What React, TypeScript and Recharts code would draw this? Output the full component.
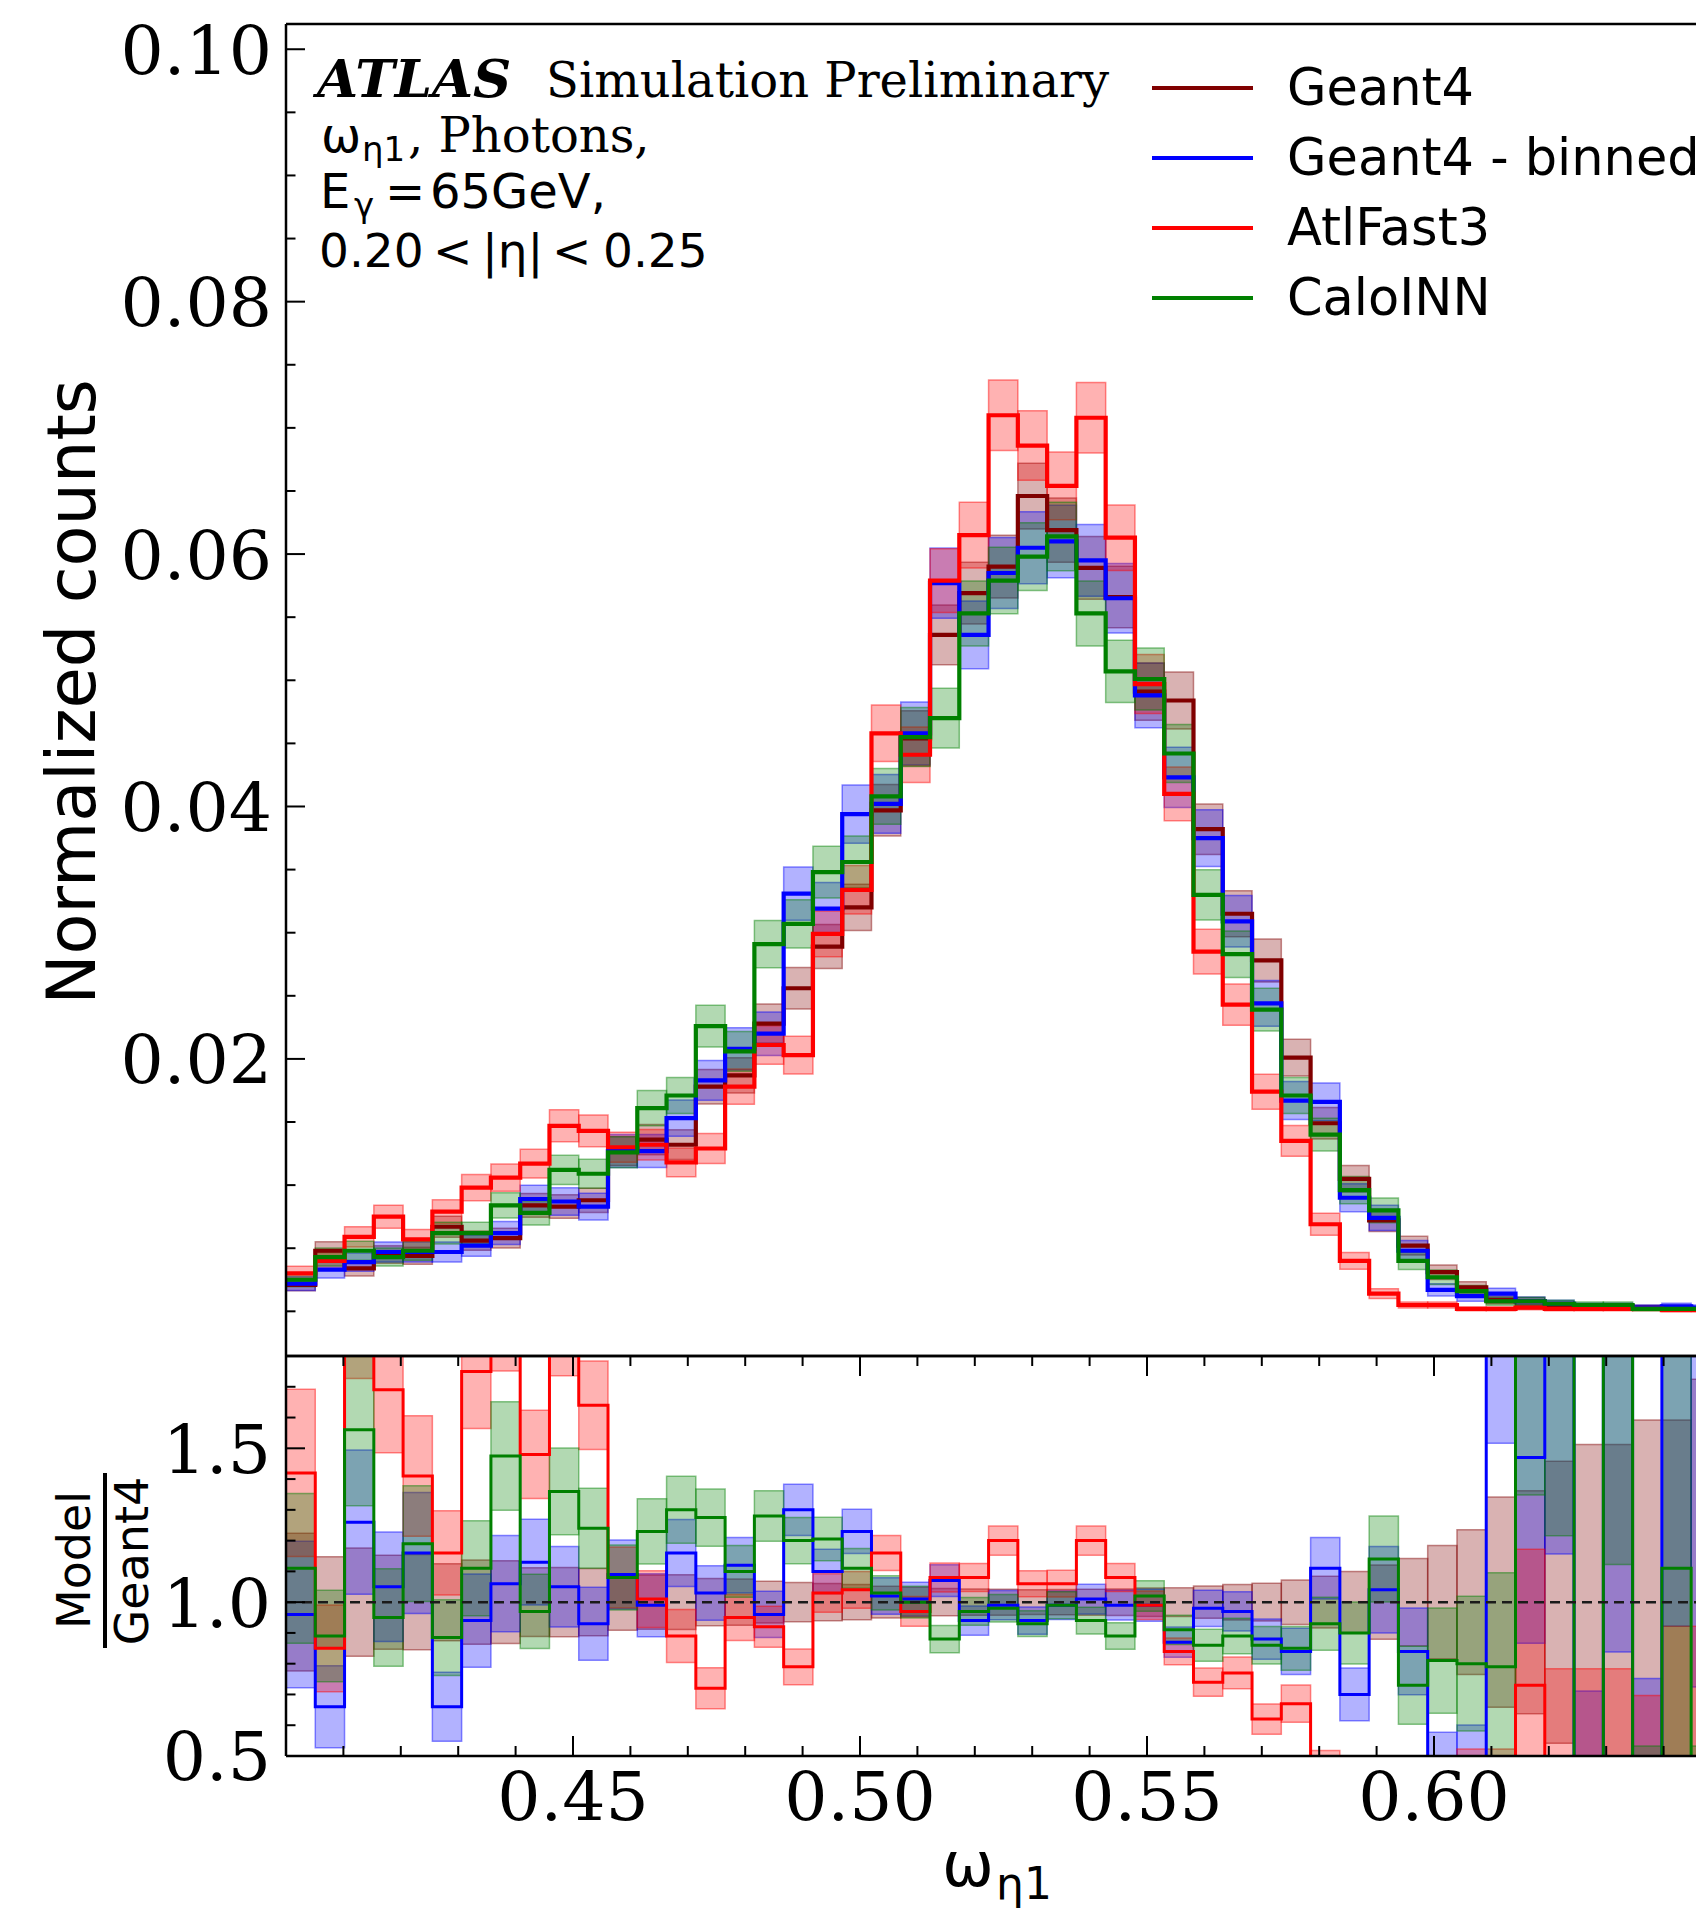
import React from "react";
import {
    ComposedChart,
    Line,
    XAxis,
    YAxis,
    ReferenceArea,
    ReferenceLine,
    Legend,
} from "recharts";

// histogram binning: 50 bins of width 0.0051 starting at 0.40 (right part is cropped)
const binEdges = Array.from({ length: 50 }, (_, i) => Number((0.4 + 0.0051 * i).toFixed(4)));

// normalized counts per bin (bins 0..48)
const geant4 = [0.0021, 0.0048, 0.0034, 0.0045, 0.0044, 0.0067, 0.0056, 0.0058, 0.0084, 0.0083, 0.0088, 0.0127, 0.0136, 0.0132, 0.0178, 0.0187, 0.0228, 0.0256, 0.0289, 0.032, 0.0397, 0.0454, 0.0536, 0.0569, 0.059, 0.0646, 0.0619, 0.0589, 0.0566, 0.0491, 0.0484, 0.0382, 0.0315, 0.0278, 0.0201, 0.0149, 0.0105, 0.0072, 0.0052, 0.0031, 0.0019, 0.0009, 0.0008, 0.0005, 0.0004, 0.0004, 0.0003, 0.0003, 0.0002];
const geant4Binned = [0.0022, 0.0033, 0.0039, 0.0047, 0.0047, 0.0047, 0.0052, 0.0062, 0.0089, 0.0087, 0.0083, 0.0127, 0.0127, 0.0153, 0.0183, 0.0208, 0.022, 0.0331, 0.0319, 0.0394, 0.0402, 0.0458, 0.0577, 0.0536, 0.0585, 0.0605, 0.061, 0.0595, 0.0565, 0.0488, 0.0423, 0.0375, 0.0309, 0.0244, 0.0167, 0.0166, 0.009, 0.0074, 0.0048, 0.0017, 0.0012, 0.0014, 0.0008, 0.0006, 0.0004, 0.0004, 0.0003, 0.0004, 0.0003];
const atlFast3 = [0.003, 0.004, 0.0059, 0.0075, 0.0057, 0.0079, 0.0098, 0.0106, 0.0117, 0.0147, 0.0143, 0.013, 0.0132, 0.0118, 0.0129, 0.0178, 0.0211, 0.0203, 0.0299, 0.0334, 0.0458, 0.0441, 0.0579, 0.0615, 0.071, 0.0686, 0.0654, 0.0708, 0.0613, 0.0497, 0.041, 0.0285, 0.0243, 0.0174, 0.0135, 0.0069, 0.004, 0.0014, 0.0005, 0.0005, 0.0002, 0.0002, 0.0003, 0.0002, 0.0002, 0.0002, 0.0002, 0.0001, 0.0001];
const caloInn = [0.0025, 0.0043, 0.0048, 0.0043, 0.0048, 0.0062, 0.0062, 0.0084, 0.0078, 0.0112, 0.0109, 0.0126, 0.0161, 0.0171, 0.0226, 0.0206, 0.0291, 0.0307, 0.0348, 0.0356, 0.0408, 0.0455, 0.047, 0.0553, 0.0579, 0.0598, 0.0614, 0.0553, 0.0507, 0.0501, 0.0442, 0.033, 0.0283, 0.0239, 0.0171, 0.014, 0.0096, 0.008, 0.004, 0.0027, 0.0016, 0.0008, 0.0008, 0.0006, 0.0005, 0.0005, 0.0002, 0.0002, 0.0002];

// Model / Geant4 per bin
const ratioBinned = [0.96, 0.66, 1.26, 1.05, 1.16, 0.66, 0.94, 1.06, 1.13, 1.05, 0.93, 1.09, 0.99, 1.16, 1.03, 1.12, 0.96, 1.3, 1.1, 1.23, 1.02, 1.01, 1.07, 0.94, 0.99, 0.94, 0.99, 1.01, 0.99, 0.99, 0.87, 0.98, 0.97, 0.88, 0.84, 1.11, 0.7, 1.04, 0.84, 0.45, 0.45, 2.2, 1.47, 2.2, 0.45, 2.0, 0.45, 2.2, 2.2];
const ratioAtlFast3 = [1.42, 0.85, 2.0, 1.69, 1.41, 1.16, 1.75, 1.95, 1.48, 1.9, 1.64, 1.08, 1.01, 0.89, 0.72, 0.95, 0.92, 0.79, 1.03, 1.04, 1.16, 0.97, 1.08, 1.08, 1.2, 1.06, 1.06, 1.2, 1.08, 0.99, 0.84, 0.74, 0.77, 0.62, 0.67, 0.46, 0.38, 0.25, 0.2, 0.3, 0.3, 0.3, 0.73, 0.45, 0.45, 0.45, 0.4, 0.45, 0.45];
const ratioCaloInn = [1.11, 0.89, 1.56, 0.95, 1.19, 0.885, 1.11, 1.475, 0.97, 1.36, 1.24, 1.08, 1.23, 1.3, 1.275, 1.1, 1.28, 1.2, 1.205, 1.11, 1.03, 1.0, 0.88, 0.97, 0.98, 0.93, 0.99, 0.94, 0.89, 1.02, 0.91, 0.86, 0.89, 0.86, 0.85, 0.93, 0.9, 1.14, 0.73, 0.81, 0.8, 0.79, 2.2, 2.2, 0.3, 2.2, 0.3, 1.11, 0.3];

// ticks
const mainYTicks = [0, 0.005, 0.01, 0.015, 0.02, 0.025, 0.03, 0.035, 0.04, 0.045, 0.05, 0.055, 0.06, 0.065, 0.07, 0.075, 0.08, 0.085, 0.09, 0.095, 0.1];
const mainYLabels = [0.02, 0.04, 0.06, 0.08, 0.1];
const ratioYTicks = [0.5, 0.6, 0.7, 0.8, 0.9, 1.0, 1.1, 1.2, 1.3, 1.4, 1.5, 1.6, 1.7, 1.8];
const ratioYLabels = [0.5, 1.0, 1.5];
const ratioXTicks = [0.4, 0.41, 0.42, 0.43, 0.44, 0.45, 0.46, 0.47, 0.48, 0.49, 0.5, 0.51, 0.52, 0.53, 0.54, 0.55, 0.56, 0.57, 0.58, 0.59, 0.6, 0.61, 0.62, 0.63, 0.64, 0.65];
const ratioXLabels = [0.45, 0.5, 0.55, 0.6];

// statistical band: err = sqrt(k * value), k
const series = [
    { key: "g4", name: "Geant4", color: "#800000", values: geant4, ratio: null as number[] | null, k: 1.05e-4 },
    { key: "binned", name: "Geant4 - binned", color: "#0000ff", values: geant4Binned, ratio: ratioBinned, k: 1.35e-4 },
    { key: "af3", name: "AtlFast3", color: "#ff0000", values: atlFast3, ratio: ratioAtlFast3, k: 1.1e-4 },
    { key: "calo", name: "CaloINN", color: "#008000", values: caloInn, ratio: ratioCaloInn, k: 1.2e-4 },
];

const nBins = geant4.length;
const mainRows = binEdges.map((x, i) => {
    const j = Math.min(i, nBins - 1);
    return { x, g4: geant4[j], binned: geant4Binned[j], af3: atlFast3[j], calo: caloInn[j] };
});
const ratioRows = binEdges.map((x, i) => {
    const j = Math.min(i, nBins - 1);
    return { x, binned: ratioBinned[j], af3: ratioAtlFast3[j], calo: ratioCaloInn[j] };
});

const X_DOMAIN = [0.4, 0.655];
const SERIF = "DejaVu Serif";
const SANS = "DejaVu Sans";
const isIn = (v: number, list: number[]) => list.some((m) => Math.abs(m - v) < 1e-9);

const MainYTick = (p: any) => {
    const { x, y, payload } = p;
    const major = isIn(payload.value, mainYLabels);
    return (
        <g>
            <line x1={x} x2={x + (major ? 19 : 9.5)} y1={y} y2={y} stroke="#000" strokeWidth={2} />
            {major && (
                <text x={x - 14} y={y} dy="0.36em" textAnchor="end" fontFamily={SERIF} fontSize={68} fill="#000">
                    {payload.value.toFixed(2)}
                </text>
            )}
        </g>
    );
};

const RatioYTick = (p: any) => {
    const { x, y, payload } = p;
    const major = isIn(payload.value, ratioYLabels);
    return (
        <g>
            <line x1={x} x2={x + (major ? 19 : 9.5)} y1={y} y2={y} stroke="#000" strokeWidth={2} />
            {major && (
                <text x={x - 15} y={y} dy="0.36em" textAnchor="end" fontFamily={SERIF} fontSize={68} fill="#000">
                    {payload.value.toFixed(1)}
                </text>
            )}
        </g>
    );
};

const RatioXTickBottom = (p: any) => {
    const { x, y, payload } = p;
    const major = isIn(payload.value, ratioXLabels);
    return (
        <g>
            <line x1={x} x2={x} y1={y} y2={y - (major ? 20 : 10)} stroke="#000" strokeWidth={2} />
            {major && (
                <text x={x} y={y + 64} textAnchor="middle" fontFamily={SERIF} fontSize={68} fill="#000">
                    {payload.value.toFixed(2)}
                </text>
            )}
        </g>
    );
};

const RatioXTickTop = (p: any) => {
    const { x, y, payload } = p;
    const major = isIn(payload.value, ratioXLabels);
    return <line x1={x} x2={x} y1={y} y2={y + (major ? 20 : 10)} stroke="#000" strokeWidth={2} />;
};

const LegendBox = () => (
    <div>
        {series.map((s) => (
            <div key={s.key} style={{ display: "flex", alignItems: "center", height: 70.2 }}>
                <svg width={101} height={10}>
                    <line x1={0} x2={101} y1={5} y2={5} stroke={s.color} strokeWidth={4} />
                </svg>
                <span style={{ marginLeft: 34, fontFamily: SANS, fontSize: 51, lineHeight: "70.2px", whiteSpace: "nowrap", color: "#000" }}>
                    {s.name}
                </span>
            </div>
        ))}
    </div>
);

const axisStroke = { stroke: "#000", strokeWidth: 2.5 };

const App: React.FC = () => {
    const mainBands = series.flatMap((s) =>
        s.values.map((v, i) => {
            const e = Math.sqrt(v * s.k);
            return (
                <ReferenceArea
                    key={`mb-${s.key}-${i}`}
                    xAxisId="b"
                    x1={binEdges[i]}
                    x2={binEdges[i + 1]}
                    y1={v - e}
                    y2={v + e}
                    fill={s.color}
                    fillOpacity={0.3}
                    stroke={s.color}
                    strokeOpacity={0.45}
                    strokeWidth={1.5}
                    ifOverflow="hidden"
                />
            );
        })
    );

    const ratioBands = series.flatMap((s) =>
        s.values.map((v, i) => {
            const rel = Math.sqrt(s.k / v);
            const r = s.ratio ? s.ratio[i] : 1;
            const e = r * rel;
            return (
                <ReferenceArea
                    key={`rb-${s.key}-${i}`}
                    xAxisId="b"
                    x1={binEdges[i]}
                    x2={binEdges[i + 1]}
                    y1={r - e}
                    y2={r + e}
                    fill={s.color}
                    fillOpacity={0.3}
                    stroke={s.color}
                    strokeOpacity={0.45}
                    strokeWidth={1.5}
                    ifOverflow="hidden"
                />
            );
        })
    );

    return (
        <div style={{ position: "absolute", left: 0, top: 0, width: 1696, height: 1908, overflow: "hidden", background: "#fff" }}>
            <div style={{ position: "absolute", left: 0, top: 0 }}>
                <ComposedChart width={1800} height={1360} data={mainRows} margin={{ top: 23, right: 50.3, bottom: 3, left: 285 }}>
                    <XAxis xAxisId="b" type="number" dataKey="x" domain={X_DOMAIN} allowDataOverflow height={1} tick={false} tickLine={false} axisLine={axisStroke} />
                    <XAxis xAxisId="t" orientation="top" type="number" dataKey="x" domain={X_DOMAIN} allowDataOverflow height={1} tick={false} tickLine={false} axisLine={axisStroke} />
                    <YAxis
                        type="number"
                        domain={[-0.00354, 0.102]}
                        allowDataOverflow
                        width={1}
                        ticks={mainYTicks}
                        interval={0}
                        tickSize={0}
                        tickMargin={0}
                        tickLine={false}
                        axisLine={axisStroke}
                        tick={(p: any) => <MainYTick {...p} />}
                    />
                    {mainBands}
                    {series.map((s) => (
                        <Line
                            key={s.key}
                            xAxisId="b"
                            dataKey={s.key}
                            name={s.name}
                            type="stepAfter"
                            stroke={s.color}
                            strokeWidth={4.2}
                            dot={false}
                            activeDot={false}
                            isAnimationActive={false}
                        />
                    ))}
                    <Legend
                        layout="vertical"
                        align="center"
                        verticalAlign="middle"
                        wrapperStyle={{ left: 1152, top: 52.6, width: "auto" }}
                        content={() => <LegendBox />}
                    />
                </ComposedChart>
            </div>

            <div style={{ position: "absolute", left: 0, top: 1300 }}>
                <ComposedChart width={1800} height={608} data={ratioRows} margin={{ top: 55, right: 50.3, bottom: 151, left: 285 }}>
                    <XAxis
                        xAxisId="b"
                        type="number"
                        dataKey="x"
                        domain={X_DOMAIN}
                        allowDataOverflow
                        height={1}
                        ticks={ratioXTicks}
                        interval={0}
                        tickSize={0}
                        tickMargin={0}
                        tickLine={false}
                        axisLine={axisStroke}
                        tick={(p: any) => <RatioXTickBottom {...p} />}
                    />
                    <XAxis
                        xAxisId="t"
                        orientation="top"
                        type="number"
                        dataKey="x"
                        domain={X_DOMAIN}
                        allowDataOverflow
                        height={1}
                        ticks={ratioXTicks}
                        interval={0}
                        tickSize={0}
                        tickMargin={0}
                        tickLine={false}
                        axisLine={axisStroke}
                        tick={(p: any) => <RatioXTickTop {...p} />}
                    />
                    <YAxis
                        type="number"
                        domain={[0.5, 1.8]}
                        allowDataOverflow
                        width={1}
                        ticks={ratioYTicks}
                        interval={0}
                        tickSize={0}
                        tickMargin={0}
                        tickLine={false}
                        axisLine={axisStroke}
                        tick={(p: any) => <RatioYTick {...p} />}
                    />
                    {ratioBands}
                    {series
                        .filter((s) => s.ratio)
                        .map((s) => (
                            <Line
                                key={s.key}
                                xAxisId="b"
                                dataKey={s.key}
                                name={s.name}
                                type="stepAfter"
                                stroke={s.color}
                                strokeWidth={3}
                                dot={false}
                                activeDot={false}
                                isAnimationActive={false}
                            />
                        ))}
                    <ReferenceLine xAxisId="b" y={1} stroke="#1a1a1a" strokeWidth={2.5} strokeDasharray="10 6" />
                </ComposedChart>
            </div>

            <svg width={1696} height={1908} style={{ position: "absolute", left: 0, top: 0, pointerEvents: "none" }}>
                <text x={317} y={96.7} fontFamily={SERIF} fontWeight="bold" fontStyle="italic" fontSize={53} fill="#000">
                    ATLAS
                </text>
                <text x={546} y={96.7} fontFamily={SERIF} fontSize={48} fill="#000">
                    Simulation Preliminary
                </text>
                <text y={152} fill="#000">
                    <tspan x={321} fontFamily={SANS} fontSize={48}>ω</tspan>
                    <tspan x={362} dy={9} fontFamily={SANS} fontSize={34}>η1</tspan>
                    <tspan x={408} dy={-9} fontFamily={SERIF} fontSize={48}>, Photons,</tspan>
                </text>
                <text y={208} fill="#000">
                    <tspan x={320} fontFamily={SANS} fontSize={48}>E</tspan>
                    <tspan x={354} dy={9} fontFamily={SANS} fontSize={34}>γ</tspan>
                    <tspan x={385} dy={-9} fontFamily={SANS} fontSize={48}>=</tspan>
                    <tspan x={430} fontFamily={SANS} fontSize={48}>65GeV,</tspan>
                </text>
                <text y={267} fill="#000" fontFamily={SANS} fontSize={47}>
                    <tspan x={319}>0.20</tspan>
                    <tspan x={433}>&lt;</tspan>
                    <tspan x={482}>|η|</tspan>
                    <tspan x={552}>&lt;</tspan>
                    <tspan x={603}>0.25</tspan>
                </text>

                <text transform="translate(95, 692) rotate(-90)" textAnchor="middle" fontFamily={SANS} fontSize={67} fill="#000">
                    Normalized counts
                </text>

                <text transform="translate(90, 1560) rotate(-90)" textAnchor="middle" fontFamily={SANS} fontSize={46} fill="#000">
                    Model
                </text>
                <line x1={105} x2={105} y1={1473} y2={1648} stroke="#000" strokeWidth={4} />
                <text transform="translate(148, 1561) rotate(-90)" textAnchor="middle" fontFamily={SANS} fontSize={46} fill="#000">
                    Geant4
                </text>

                <text y={1886} fill="#000" fontFamily={SANS}>
                    <tspan x={942} fontSize={62}>ω</tspan>
                    <tspan x={996} dy={13} fontSize={44}>η1</tspan>
                </text>
            </svg>
        </div>
    );
};

export default App;
